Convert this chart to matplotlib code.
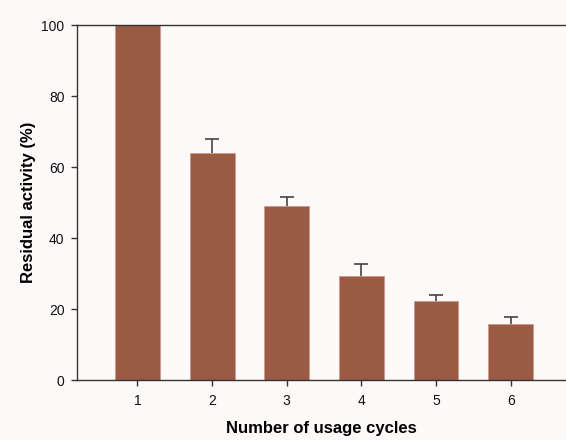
import matplotlib
matplotlib.use("Agg")
import matplotlib.pyplot as plt

cycles = [1, 2, 3, 4, 5, 6]
activity = [100.0, 64.1, 49.1, 29.3, 22.4, 15.7]
errors = [0.0, 3.8, 2.6, 3.4, 1.7, 2.0]
y_ticks = [0, 20, 40, 60, 80, 100]

plt.rcParams['font.family'] = ['Liberation Sans', 'DejaVu Sans']

bg = '#fdf9f8'
bar_color = '#9b5a43'
axis_color = '#333333'

fig = plt.figure(figsize=(5.66, 4.40), dpi=100, facecolor=bg)
ax = fig.add_axes([0.136, 0.136, 0.864, 0.807], facecolor=bg)

ax.bar(cycles, activity, width=0.6, color=bar_color, edgecolor='#c99a8c',
       linewidth=0.6, zorder=2)
# upper error only
_, caps, _ = ax.errorbar(cycles, activity, yerr=[[0] * len(errors), errors],
                         fmt='none', ecolor='#444444', elinewidth=1.2,
                         capsize=5, capthick=1.2, zorder=1)
caps[0].set_visible(False)

ax.set_xlim(0.19, 6.74)
ax.set_ylim(0, 100)
ax.set_xticks(cycles)
ax.set_yticks(y_ticks)

for side in ['left', 'bottom', 'top']:
    ax.spines[side].set_color(axis_color)
    ax.spines[side].set_linewidth(1.0)
    ax.spines[side].set_zorder(4)
ax.spines['right'].set_visible(False)

ax.tick_params(direction='out', length=4, width=1.0, color=axis_color,
               labelsize=10, labelcolor='#111111')
ax.tick_params(axis='x', pad=6)
ax.tick_params(axis='y', pad=5)

ax.set_xlabel('Number of usage cycles', fontsize=12, fontweight='bold', labelpad=9)
ax.set_ylabel('Residual activity (%)', fontsize=12, fontweight='bold', labelpad=4)

fig.savefig('out.png', dpi=100, facecolor=bg)
